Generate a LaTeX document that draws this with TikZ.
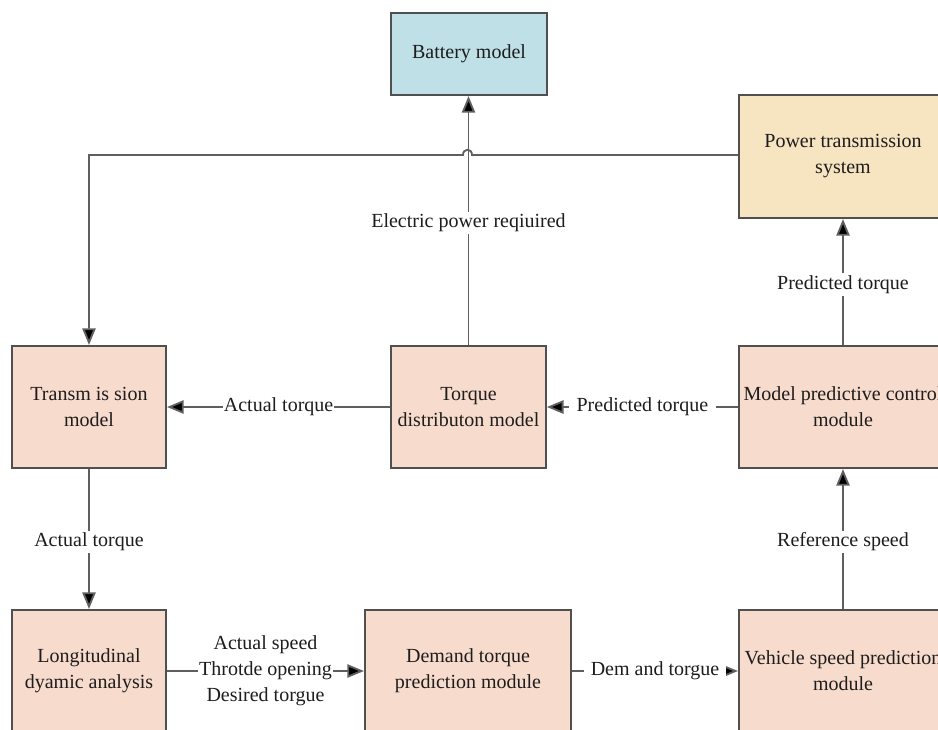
\documentclass[tikz,border=0pt]{standalone}
\usepackage{fontspec}
\setmainfont{Liberation Serif}
\usetikzlibrary{positioning, arrows.meta}

\definecolor{pinkfill}{RGB}{247,219,205}
\definecolor{bluefill}{RGB}{190,224,230}
\definecolor{yellowfill}{RGB}{247,229,194}
\definecolor{edgegray}{RGB}{80,80,80}
\definecolor{linegray}{RGB}{95,95,95}
\definecolor{textgray}{RGB}{30,28,28}

\tikzset{
  block/.style={draw=edgegray, line width=1.6pt, fill=pinkfill, align=center,
    minimum width=115.5pt, minimum height=91.5pt, inner sep=0pt},
  wideblock/.style={block, minimum width=156pt},
  flow/.style={draw=linegray, line width=1.4pt, -{Triangle[length=12.5pt, width=10pt, fill=black]}},
  tag/.style={fill=white, inner sep=1.5pt, align=center}
}

\begin{document}
\begin{tikzpicture}[x=0.75pt, y=-0.75pt,
    every node/.style={font=\fontsize{15}{19.5}\selectfont, text=textgray}]
  \useasboundingbox (0,0) rectangle (938,729);
  \clip (0,0) rectangle (938,729);

  % blocks
  \node[block, fill=bluefill, minimum width=117pt, minimum height=61.5pt] (battery) at (469,54) {Battery model};
  \node[wideblock, fill=yellowfill, minimum height=92.25pt] (power) at (843,156.5) {Power transmission\\system};
  \node[block] (trans) at (89,407) {Transm is sion\\model};
  \node[block, minimum width=116pt] (torque) at (468.5,407) {Torque\\distributon model};
  \node[wideblock] (mpc) at (843,407) {Model predictive control\\module};
  \node[block] (longi) at (89,671) {Longitudinal\\dyamic analysis};
  \node[block, minimum width=154.5pt] (demand) at (468,671) {Demand torque\\prediction module};
  \node[wideblock] (speed) at (843,671) {Vehicle speed prediction\\module};

  % power system back to transmission, hopping over the battery line
  \coordinate (hopR) at (472,155);
  \coordinate (hopL) at (463,155);
  \draw[flow] (power.west |- hopR) -- (hopR)
    .. controls (472,148) and (463,148) .. (hopL)
    -- (trans.north |- hopL) -- (trans.north);

  \draw[flow] (torque.north) -- node[tag, pos=0.49] {Electric power reqiuired} (torque.north |- battery.south);
  \draw[flow] (torque.west) -- node[tag, inner sep=0.5pt] {Actual torque} (trans.east);
  \draw[flow] (mpc.west) -- node[tag, inner sep=6pt] {Predicted torque} (torque.east);
  \draw[flow] (mpc.north) -- node[tag, pos=0.48] {Predicted torque} (power.south);
  \draw[flow] (trans.south) -- node[tag, pos=0.52] {Actual torque} (longi.north);
  \draw[flow] (longi.east) -- node[tag, inner sep=0.5pt] {Actual speed\\Throtde opening\\Desired torgue} (demand.west);
  \draw[flow] (demand.east) -- node[tag, inner sep=5pt] {Dem and torgue} (speed.west);
  \draw[flow] (speed.north) -- node[tag, pos=0.48] {Reference speed} (mpc.south);
\end{tikzpicture}
\end{document}
